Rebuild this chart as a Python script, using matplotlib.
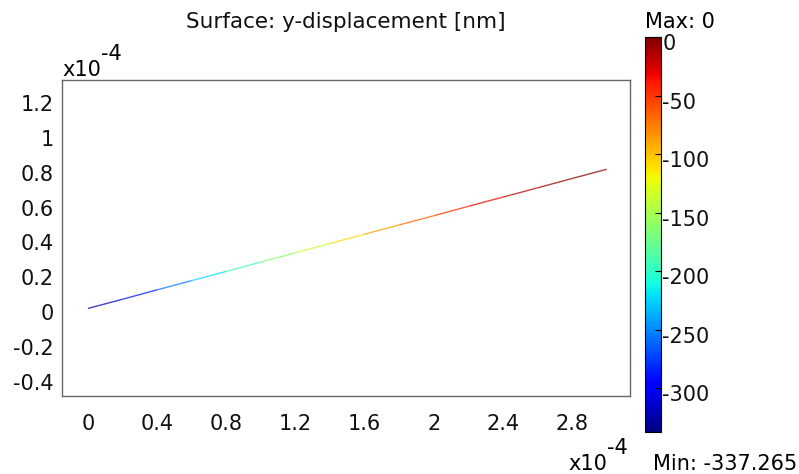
import matplotlib
matplotlib.use("Agg")
import matplotlib.pyplot as plt
import matplotlib.transforms as mtransforms
import numpy as np
from matplotlib.collections import LineCollection
from matplotlib.colors import Normalize
from matplotlib.ticker import FixedLocator, FuncFormatter

# beam geometry (units of 1e-4 m) and y-displacement [nm] read along it
x_pos = [0.0, 0.2, 0.4, 0.6, 0.8, 1.0, 1.2, 1.4, 1.6, 1.8, 2.0, 2.2, 2.4, 2.6, 2.8, 3.0]
y_pos = [0.02, 0.073, 0.127, 0.18, 0.233, 0.287, 0.34, 0.393, 0.447, 0.5, 0.553,
         0.607, 0.66, 0.713, 0.767, 0.82]
disp = [-337.265, -304, -271, -239, -208, -178, -149, -123, -98, -76, -56, -39, -25, -13, -5, 0]

x_ticks = [0, 0.4, 0.8, 1.2, 1.6, 2, 2.4, 2.8]
y_ticks = [-0.4, -0.2, 0, 0.2, 0.4, 0.6, 0.8, 1, 1.2]
cb_ticks = [0, -50, -100, -150, -200, -250, -300]
vmin, vmax = -337.265, 0

plt.rcParams['font.family'] = 'DejaVu Sans'
fs = 15
fig = plt.figure(figsize=(7.99, 4.74), dpi=100)
ax = fig.add_axes([0.0776, 0.1646, 0.7109, 0.6666])

norm = Normalize(vmin=vmin, vmax=vmax)
xs = np.array(x_pos)
ys = np.array(y_pos)
vs = np.array(disp)
pts = np.column_stack([xs, ys]).reshape(-1, 1, 2)
segs = np.concatenate([pts[:-1], pts[1:]], axis=1)
seg_vals = (vs[:-1] + vs[1:]) / 2
lc = LineCollection(segs, cmap='jet', norm=norm, linewidth=1.0, alpha=0.75)
lc.set_array(seg_vals)
ax.add_collection(lc)

ax.set_xlim(-0.15, 3.135)
ax.set_ylim(-0.483, 1.333)
ax.xaxis.set_major_locator(FixedLocator(x_ticks))
ax.yaxis.set_major_locator(FixedLocator(y_ticks))
fmt = FuncFormatter(lambda v, p: '%g' % round(v, 2))
ax.xaxis.set_major_formatter(fmt)
ax.yaxis.set_major_formatter(fmt)
ax.tick_params(length=0, labelsize=fs, pad=6, labelcolor='#111111')
ax.tick_params(axis='x', pad=13)
for s in ax.spines.values():
    s.set_color('#666666')
    s.set_linewidth(1.0)

fig.text(0.433, 0.941, 'Surface: y-displacement [nm]', fontsize=15.5,
         ha='center', va='baseline', color='#111111')

# "x10^-4" multiplier labels
fig.text(0.0776, 0.840, 'x10', fontsize=fs, ha='left', va='baseline')
fig.text(0.127, 0.874, '-4', fontsize=fs, ha='left', va='baseline')
fig.text(0.711, 0.008, 'x10', fontsize=fs, ha='left', va='baseline')
fig.text(0.760, 0.042, '-4', fontsize=fs, ha='left', va='baseline')

cax = fig.add_axes([0.807, 0.0886, 0.02, 0.8334])
sm = plt.cm.ScalarMappable(norm=norm, cmap='jet')
cb = fig.colorbar(sm, cax=cax)
cb.set_ticks(cb_ticks)
cb.ax.yaxis.set_major_formatter(FuncFormatter(lambda v, p: '%d' % v))
cb.ax.tick_params(direction='in', length=4, width=0.8, labelsize=fs, pad=1,
                  labelcolor='#111111')
cb.outline.set_linewidth(0.8)
shift = mtransforms.ScaledTranslation(0, -5 / 100, fig.dpi_scale_trans)
for lab in cb.ax.get_yticklabels():
    lab.set_transform(lab.get_transform() + shift)

fig.text(0.807, 0.941, 'Max: 0', fontsize=fs, ha='left', va='baseline')
fig.text(0.998, 0.008, 'Min: -337.265', fontsize=fs, ha='right', va='baseline')

fig.savefig('out.png', dpi=100)
